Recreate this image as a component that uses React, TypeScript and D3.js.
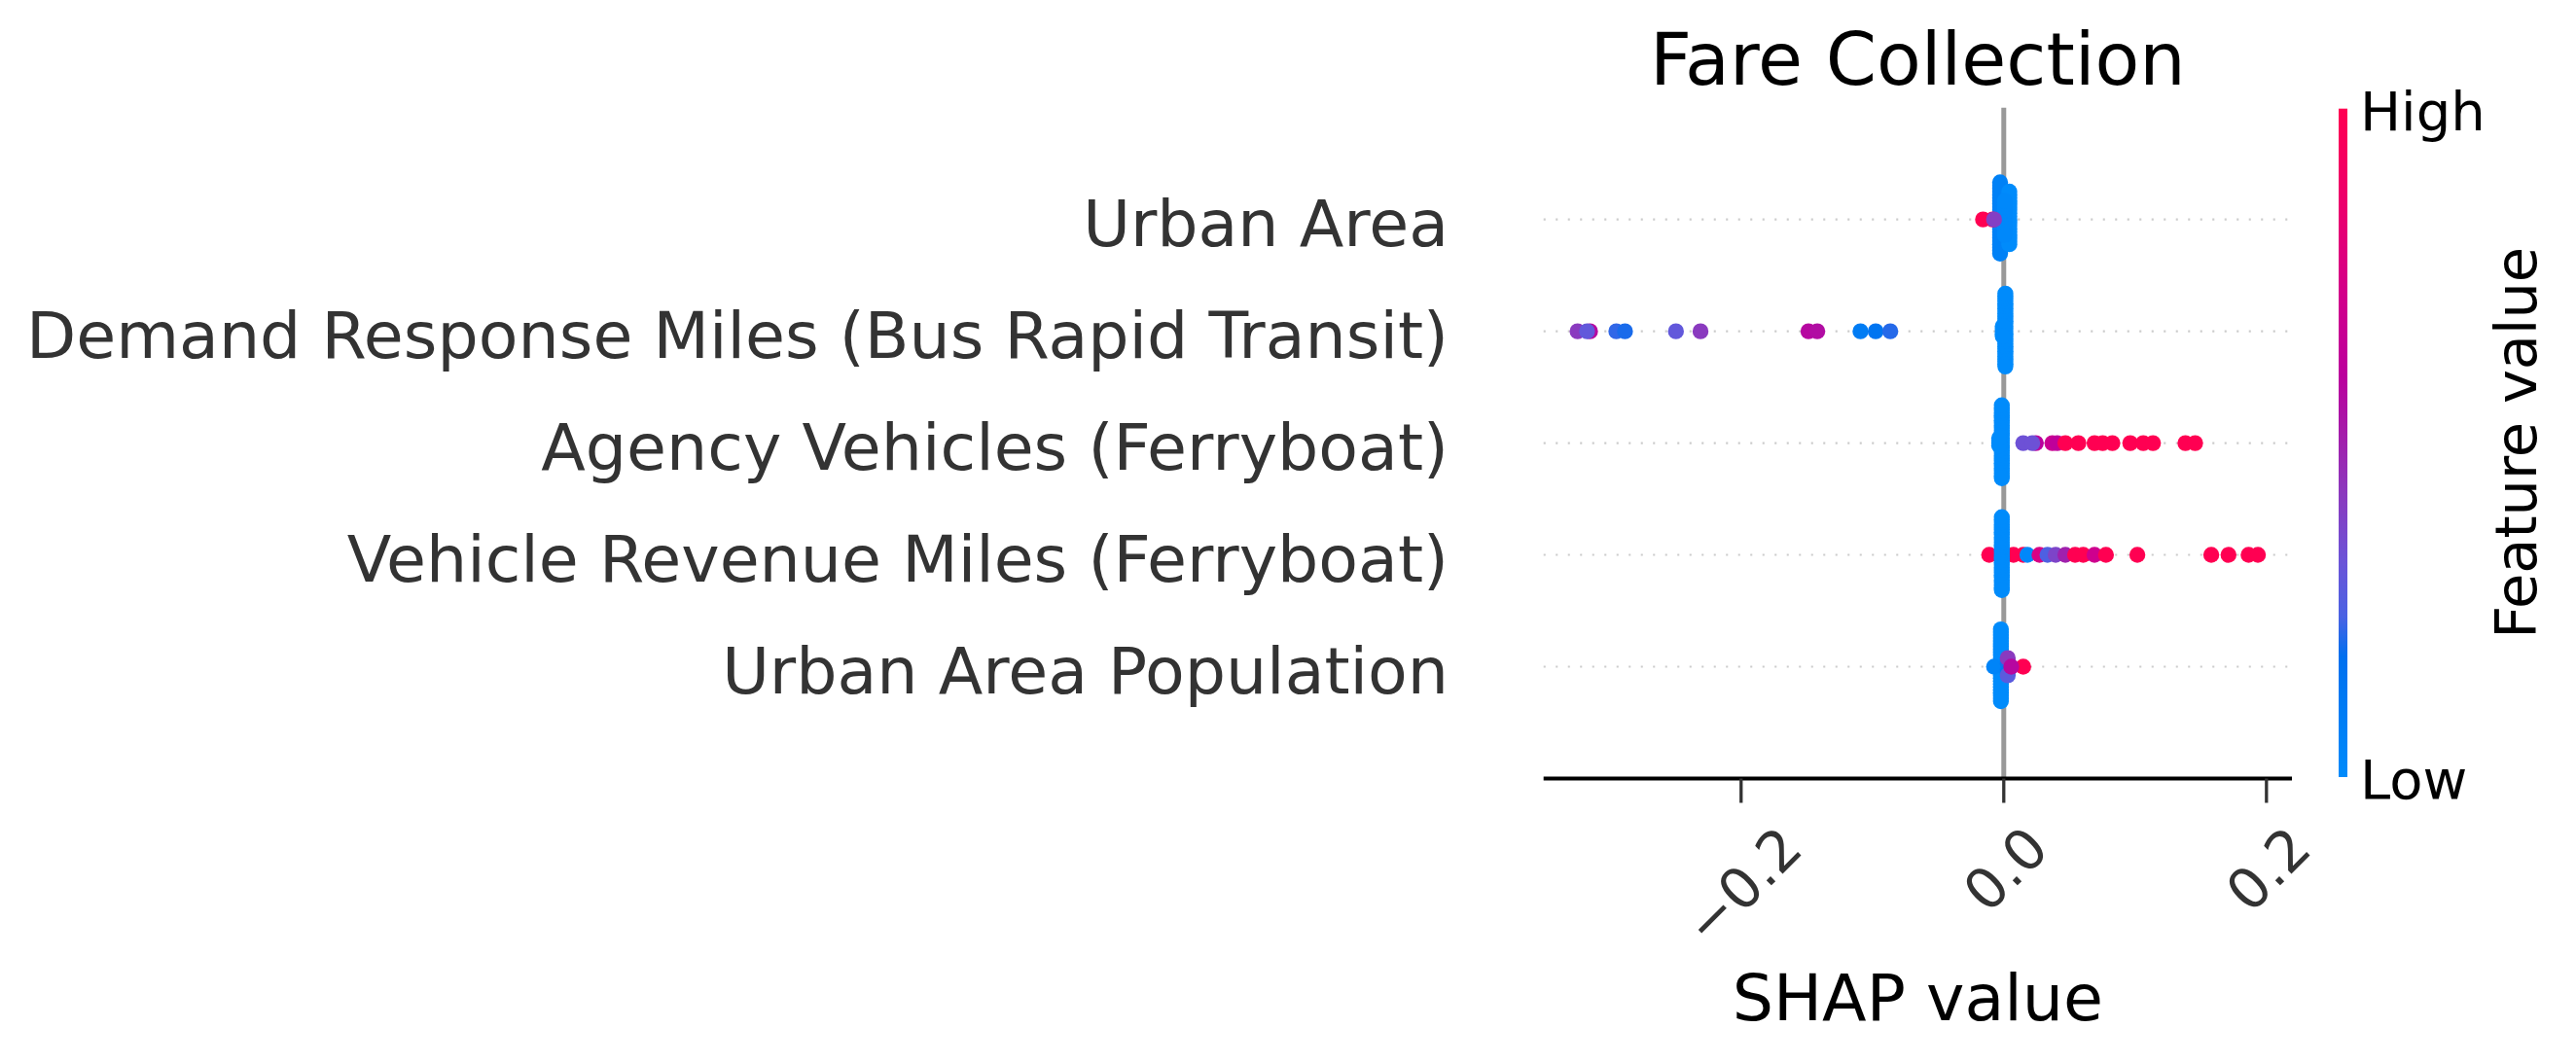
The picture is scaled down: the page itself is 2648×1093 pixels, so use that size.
import { useMemo } from "react";
import * as d3 from "d3";

// Feature names, top to bottom
const features = [
  "Urban Area",
  "Demand Response Miles (Bus Rapid Transit)",
  "Agency Vehicles (Ferryboat)",
  "Vehicle Revenue Miles (Ferryboat)",
  "Urban Area Population",
];

// Each entry: [SHAP value, normalized feature value (0 = low, 1 = high), number of points]
const urbanArea: [number, number, number][] = [
  [-0.0028, 0.07, 24],
  [0.0042, 0.0, 18],
  [0.0008, 0.02, 12],
  [-0.0158, 1.0, 1],
  [-0.0085, 1.0, 1],
  [-0.0074, 0.4, 1],
];

const demandResponseBRT: [number, number, number][] = [
  [0.0012, 0.0, 30],
  [-0.0008, 0.0, 5],
  [-0.3245, 0.42, 1],
  [-0.315, 0.58, 1],
  [-0.3173, 0.3, 1],
  [-0.295, 0.22, 1],
  [-0.2884, 0.2, 1],
  [-0.2496, 0.3, 1],
  [-0.2309, 0.42, 1],
  [-0.1487, 0.58, 1],
  [-0.142, 0.56, 1],
  [-0.1091, 0.1, 1],
  [-0.0975, 0.15, 1],
  [-0.0864, 0.21, 1],
];

const agencyVehiclesFerry: [number, number, number][] = [
  [-0.0015, 0.0, 30],
  [-0.0035, 0.0, 4],
  [0.0148, 0.33, 1],
  [0.0244, 0.6, 1],
  [0.0217, 0.33, 1],
  [0.037, 0.68, 1],
  [0.0407, 0.62, 1],
  [0.0469, 1, 1],
  [0.0568, 1, 1],
  [0.0691, 1, 1],
  [0.0753, 1, 1],
  [0.0827, 1, 1],
  [0.0963, 1, 1],
  [0.1062, 1, 1],
  [0.1136, 1, 1],
  [0.1383, 1, 1],
  [0.1457, 1, 1],
];

const vehicleRevenueMilesFerry: [number, number, number][] = [
  [-0.0111, 1, 1],
  [0.0074, 1, 1],
  [0.0148, 1, 1],
  [-0.0015, 0.0, 30],
  [0.018, 0.02, 1],
  [0.0272, 0.75, 1],
  [0.0333, 0.25, 1],
  [0.0395, 0.38, 1],
  [0.0469, 0.5, 1],
  [0.0543, 1, 1],
  [0.0605, 1, 1],
  [0.0691, 0.7, 1],
  [0.0778, 1, 1],
  [0.1017, 1, 1],
  [0.158, 1, 1],
  [0.1711, 1, 1],
  [0.1864, 1, 1],
  [0.1935, 1, 1],
];

const urbanAreaPopulation: [number, number, number][] = [
  [-0.0022, 0.0, 26],
  [-0.0074, 0.05, 1],
  [0.003, 0.05, 1],
  [0.003, 0.12, 1],
  [0.003, 0.1, 1],
  [0.003, 0.2, 1],
  [0.003, 0.15, 1],
  [0.003, 0.42, 1],
  [0.003, 0.28, 1],
  [0.0148, 1, 1],
  [0.0057, 0.58, 1],
];

const rows = [urbanArea, demandResponseBRT, agencyVehiclesFerry, vehicleRevenueMilesFerry, urbanAreaPopulation];

const xTicks = [-0.2, 0, 0.2];

// SHAP red_blue colormap, sampled
const cmapStops = [0, 0.18, 0.24, 0.32, 0.42, 0.52, 0.6, 0.72, 0.85, 1];
const cmapColors = ["#008bfb", "#0070ef", "#4a62e3", "#6a54d8", "#8a3abf", "#a61aa9", "#bb009d", "#d2008b", "#eb006e", "#ff0052"];

const W = 2648;
const H = 1093;
const plot = { left: 1586.7, right: 2356, top: 110.7, bottom: 800.5 };
const font = "'DejaVu Sans', sans-serif";

// char advance widths (em) for tick label sizing
const charW: Record<string, number> = { ".": 0.318, "\u2212": 0.838 };
const textWidth = (s: string, fs: number) =>
  s.split("").reduce((acc, c) => acc + (charW[c] ?? 0.636), 0) * fs;

// same stacking as shap's summary plot
function beeswarm(groups: [number, number, number][], rowHeight = 0.4) {
  const pts = groups.flatMap(([v, t, n]) => Array.from({ length: n }, () => ({ v, t })));
  const vals = pts.map((p) => p.v);
  const mn = d3.min(vals)!;
  const mx = d3.max(vals)!;
  const nbins = 100;
  const quant = vals.map((v) => Math.round((nbins * (v - mn)) / (mx - mn + 1e-8)));
  const order = d3.range(pts.length).sort((a, b) => quant[a] - quant[b] || a - b);
  const ys = new Array(pts.length).fill(0);
  let layer = 0;
  let last = -1;
  for (const i of order) {
    if (quant[i] !== last) layer = 0;
    ys[i] = Math.ceil(layer / 2) * ((layer % 2) * 2 - 1);
    layer++;
    last = quant[i];
  }
  const m = d3.max(ys.map((y) => y + 1))!;
  return pts.map((p, i) => ({ ...p, dy: ys[i] * 0.9 * (rowHeight / m) }));
}

export default function App() {
  const all = rows.flat().map((d) => d[0]);
  const lo = d3.min(all)!;
  const hi = d3.max(all)!;
  const pad = (hi - lo) * 0.05;

  const x = d3.scaleLinear().domain([lo - pad, hi + pad]).range([plot.left, plot.right]);
  const n = features.length;
  const y = d3.scaleLinear().domain([-1, n]).range([plot.bottom, plot.top]);
  const color = d3.scaleLinear<string>().domain(cmapStops).range(cmapColors).clamp(true);

  const swarms = useMemo(() => rows.map((r) => beeswarm(r)), []);

  const cbX = 2404;
  const cbW = 9;
  const cbTop = plot.top + 1;
  const cbBottom = plot.bottom - 1.5;

  const tickFs = 58;
  const tickTop = 846;

  return (
    <svg
      width={W}
      height={H}
      style={{ position: "absolute", left: 0, top: 0, background: "#fff" }}
      fontFamily={font}
    >
      <defs>
        <linearGradient id="cb" x1="0" y1="1" x2="0" y2="0">
          {cmapStops.map((s, i) => (
            <stop key={i} offset={s} stopColor={cmapColors[i]} />
          ))}
        </linearGradient>
      </defs>

      {/* row guide lines */}
      {features.map((f, i) => (
        <line
          key={f}
          x1={plot.left}
          x2={plot.right}
          y1={y(n - 1 - i)}
          y2={y(n - 1 - i)}
          stroke="#cccccc"
          strokeWidth={2.1}
          strokeDasharray="2.1 10.4"
        />
      ))}

      {/* zero line */}
      <line x1={x(0)} x2={x(0)} y1={plot.top} y2={plot.bottom} stroke="#999999" strokeWidth={5} />

      {/* points */}
      {swarms.map((pts, i) =>
        pts.map((p, j) => (
          <circle key={`${i}-${j}`} cx={x(p.v)} cy={y(n - 1 - i + p.dy)} r={8.2} fill={color(p.t)} />
        ))
      )}

      {/* x axis */}
      <line x1={plot.left} x2={plot.right} y1={plot.bottom} y2={plot.bottom} stroke="#000" strokeWidth={4.2} />
      {xTicks.map((t) => {
        const label = t === 0 ? "0.0" : d3.format(".1f")(t).replace("-", "\u2212");
        const w = textWidth(label, tickFs);
        const cx = x(t) + 2;
        const cy = tickTop + (w + 0.75 * tickFs) / (2 * Math.SQRT2);
        return (
          <g key={t}>
            <line x1={x(t)} x2={x(t)} y1={plot.bottom} y2={plot.bottom + 25} stroke="#333333" strokeWidth={3.3} />
            <text
              x={cx}
              y={cy}
              fontSize={tickFs}
              fill="#333333"
              textAnchor="middle"
              dominantBaseline="central"
              transform={`rotate(-45 ${cx} ${cy})`}
            >
              {label}
            </text>
          </g>
        );
      })}

      {/* feature labels */}
      {features.map((f, i) => (
        <text key={f} x={1489} y={y(n - 1 - i) + 27} fontSize={66.6} fill="#333333" textAnchor="end">
          {f}
        </text>
      ))}

      <text x={(plot.left + plot.right) / 2} y={1049} fontSize={66.6} fill="#000" textAnchor="middle">
        SHAP value
      </text>
      <text x={(plot.left + plot.right) / 2} y={87} fontSize={74.8} fill="#000" textAnchor="middle">
        Fare Collection
      </text>

      {/* colorbar */}
      <rect x={cbX} y={cbTop} width={cbW} height={cbBottom - cbTop} fill="url(#cb)" />
      <text x={2426} y={cbTop + 22} fontSize={56} fill="#000">
        High
      </text>
      <text x={2426} y={cbBottom + 22} fontSize={56} fill="#000">
        Low
      </text>
      <text
        x={2607}
        y={(cbTop + cbBottom) / 2}
        fontSize={59}
        fill="#000"
        textAnchor="middle"
        transform={`rotate(-90 2607 ${(cbTop + cbBottom) / 2})`}
      >
        Feature value
      </text>
    </svg>
  );
}
